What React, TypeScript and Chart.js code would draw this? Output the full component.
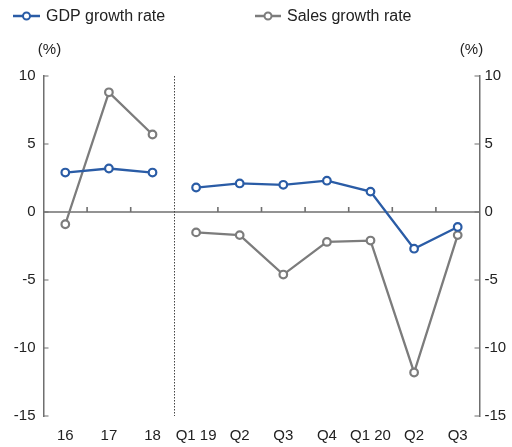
import React, { useEffect, useRef } from "react";
import { Chart, registerables } from "chart.js";

Chart.register(...registerables);

const categories = ["16", "17", "18", "Q1 19", "Q2", "Q3", "Q4", "Q1 20", "Q2", "Q3"];
const gdpGrowth = [2.9, 3.2, 2.9, 1.8, 2.1, 2.0, 2.3, 1.5, -2.7, -1.1];
const salesGrowth = [-0.9, 8.8, 5.7, -1.5, -1.7, -4.6, -2.2, -2.1, -11.8, -1.7];
const yTicks = [10, 5, 0, -5, -10, -15];
const legendLabels = ["GDP growth rate", "Sales growth rate"];
const unitLabel = "(%)";
const breakAfterIndex = 2;

const BLUE = "#2a5ca6";
const GRAY = "#7c7c7c";
const AXIS = "#6f6f6f";
const TEXT = "#222222";
const TICK_FONT = "'Liberation Sans Narrow', 'Liberation Sans', Arial, sans-serif";
const LEGEND_FONT = "'Liberation Sans', Arial, sans-serif";

const decorPlugin = {
  id: "decor",
  beforeDatasetsDraw(chart: any) {
    const { ctx, chartArea, scales } = chart;
    const x = scales.x;
    const y = scales.y;
    ctx.save();
    const y0 = y.getPixelForValue(0);
    ctx.strokeStyle = AXIS;
    ctx.lineWidth = 1.6;
    ctx.beginPath();
    ctx.moveTo(chartArea.left, y0);
    ctx.lineTo(chartArea.right, y0);
    ctx.stroke();
    const n = categories.length;
    for (let i = 1; i < n; i++) {
      if (i === breakAfterIndex + 1) continue;
      const bx = (x.getPixelForValue(i - 1) + x.getPixelForValue(i)) / 2;
      ctx.beginPath();
      ctx.moveTo(bx, y0);
      ctx.lineTo(bx, y0 - 5);
      ctx.stroke();
    }
    ctx.lineWidth = 1.2;
    yTicks.forEach((v) => {
      const py = y.getPixelForValue(v);
      ctx.beginPath();
      ctx.moveTo(chartArea.left, py);
      ctx.lineTo(chartArea.left + 5, py);
      ctx.moveTo(chartArea.right, py);
      ctx.lineTo(chartArea.right - 5, py);
      ctx.stroke();
    });
    const dx = (x.getPixelForValue(breakAfterIndex) + x.getPixelForValue(breakAfterIndex + 1)) / 2;
    ctx.strokeStyle = "#444444";
    ctx.lineWidth = 1;
    ctx.setLineDash([1.5, 1.5]);
    ctx.beginPath();
    ctx.moveTo(Math.round(dx) + 0.5, chartArea.top);
    ctx.lineTo(Math.round(dx) + 0.5, chartArea.bottom);
    ctx.stroke();
    ctx.setLineDash([]);
    ctx.restore();
  },
  afterDraw(chart: any) {
    const { ctx, chartArea } = chart;
    ctx.save();
    ctx.fillStyle = TEXT;
    ctx.font = `15px ${TICK_FONT}`;
    ctx.textBaseline = "middle";
    ctx.textAlign = "center";
    ctx.fillText(unitLabel, chartArea.left + 6, 50);
    ctx.fillText(unitLabel, chartArea.right - 8, 50);
    const items = [
      { label: legendLabels[0], color: BLUE, x0: 13, x1: 40, tx: 46 },
      { label: legendLabels[1], color: GRAY, x0: 255, x1: 281, tx: 287 },
    ];
    items.forEach((it) => {
      const ly = 16;
      ctx.strokeStyle = it.color;
      ctx.lineWidth = 2.5;
      ctx.beginPath();
      ctx.moveTo(it.x0, ly);
      ctx.lineTo(it.x1, ly);
      ctx.stroke();
      ctx.beginPath();
      ctx.fillStyle = "#ffffff";
      ctx.lineWidth = 2;
      ctx.arc((it.x0 + it.x1) / 2, ly, 3.5, 0, Math.PI * 2);
      ctx.fill();
      ctx.stroke();
      ctx.fillStyle = TEXT;
      ctx.font = `16px ${LEGEND_FONT}`;
      ctx.textAlign = "left";
      ctx.textBaseline = "middle";
      ctx.fillText(it.label, it.tx, ly + 1);
    });
    ctx.restore();
  },
};

function makeDataset(label: string, data: number[], color: string) {
  return {
    label,
    data,
    borderColor: color,
    backgroundColor: "#ffffff",
    borderWidth: 2.3,
    pointRadius: 3.8,
    pointBorderWidth: 2.2,
    pointBackgroundColor: "#ffffff",
    pointBorderColor: color,
    tension: 0,
    yAxisID: "y",
    segment: {
      borderColor: (c: any) => (c.p0DataIndex === breakAfterIndex ? "rgba(0,0,0,0)" : color),
    },
  };
}

export default function App() {
  const canvasRef = useRef<HTMLCanvasElement | null>(null);

  useEffect(() => {
    const canvas = canvasRef.current;
    if (!canvas) return;
    const yAxisBase = (position: "left" | "right", width: number, padding: number) => ({
      type: "linear" as const,
      position,
      min: -15,
      max: 10,
      afterBuildTicks: (scale: any) => {
        scale.ticks = yTicks.map((v) => ({ value: v }));
      },
      afterFit: (scale: any) => {
        scale.width = width;
      },
      grid: { display: true, drawOnChartArea: false, drawTicks: false },
      border: { display: true, color: AXIS, width: 1.5 },
      ticks: {
        color: TEXT,
        padding,
        font: { family: TICK_FONT, size: 15 },
        callback: (v: any) => `${v}`,
      },
    });
    const chart = new Chart(canvas, {
      type: "line",
      data: {
        labels: categories,
        datasets: [
          makeDataset(legendLabels[0], gdpGrowth, BLUE),
          makeDataset(legendLabels[1], salesGrowth, GRAY),
        ],
      },
      options: {
        responsive: false,
        animation: false,
        layout: { padding: { top: 76, left: 0, right: 0, bottom: 0 } },
        plugins: {
          legend: { display: false },
          tooltip: { enabled: false },
        },
        scales: {
          x: {
            type: "category",
            offset: true,
            grid: { display: false, drawTicks: false },
            border: { display: false },
            afterFit: (scale: any) => {
              scale.height = 31;
            },
            ticks: {
              color: TEXT,
              padding: 11,
              maxRotation: 0,
              autoSkip: false,
              font: { family: TICK_FONT, size: 15 },
            },
          },
          y: yAxisBase("left", 43.5, 8),
          y2: yAxisBase("right", 32.5, 5),
        },
      },
      plugins: [decorPlugin],
    });
    return () => chart.destroy();
  }, []);

  return (
    <div style={{ position: "fixed", left: 0, top: 0, width: 512, height: 447, background: "#ffffff" }}>
      <canvas ref={canvasRef} width={512} height={447} style={{ width: 512, height: 447 }} />
    </div>
  );
}
